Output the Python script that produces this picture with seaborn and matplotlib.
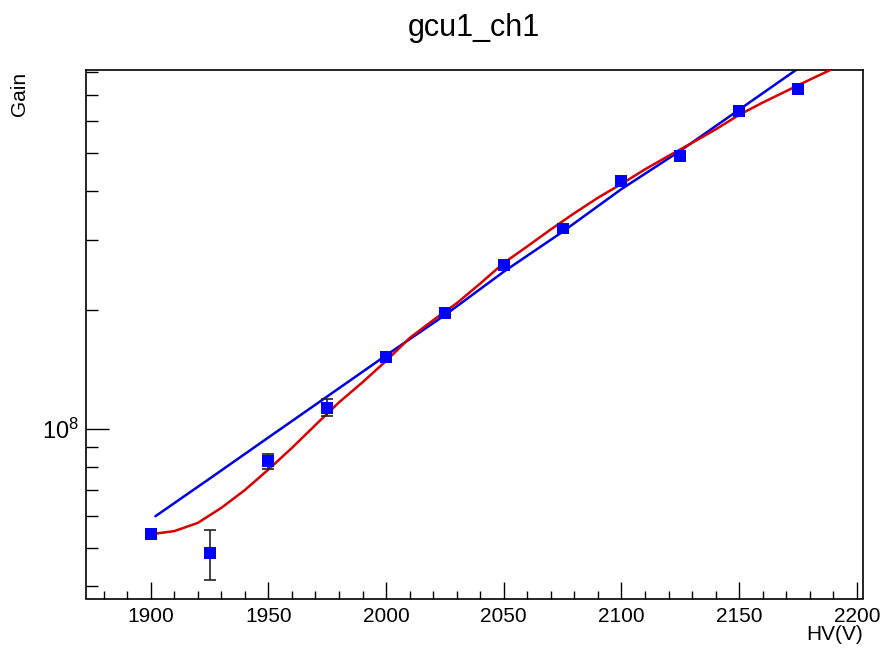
import numpy as np
import pandas as pd
import matplotlib
matplotlib.use("Agg")
import matplotlib.pyplot as plt
import matplotlib.ticker as mticker
import seaborn as sns

# ---- data ----
hv = [1900, 1925, 1950, 1975, 2000, 2025, 2050, 2075, 2100, 2125, 2150, 2175]
gain = [5.41e7, 4.85e7, 8.28e7, 1.132e8, 1.52e8, 1.97e8, 2.60e8, 3.215e8,
        4.24e8, 4.91e8, 6.37e8, 7.24e8]
gain_err = [0.05e7, 0.71e7, 0.36e7, 0.055e8, 0.02e8, 0.025e8, 0.03e8, 0.04e8,
            0.05e8, 0.06e8, 0.07e8, 0.08e8]

# red fit curve
red_hv = [1901, 1910, 1920, 1930, 1940, 1950, 1960, 1970, 1980, 1990, 2000,
          2010, 2020, 2030, 2040, 2050, 2060, 2070, 2080, 2090, 2100, 2110,
          2120, 2130, 2140, 2150, 2160, 2170, 2180, 2190, 2200]
red_gain = [5.42e7, 5.51e7, 5.78e7, 6.31e7, 7.00e7, 7.89e7, 8.95e7, 1.023e8,
            1.167e8, 1.312e8, 1.486e8, 1.698e8, 1.884e8, 2.080e8, 2.333e8,
            2.630e8, 2.897e8, 3.199e8, 3.516e8, 3.846e8, 4.169e8, 4.539e8,
            4.909e8, 5.297e8, 5.728e8, 6.237e8, 6.699e8, 7.161e8, 7.656e8,
            8.166e8, 8.71e8]

# blue fit curve
blue_hv = [1902, 1925, 1950, 1975, 2000, 2025, 2050, 2075, 2100, 2125, 2150,
           2175, 2180]
blue_gain = [6.01e7, 7.48e7, 9.51e7, 1.208e8, 1.535e8, 1.941e8, 2.500e8,
             3.155e8, 4.046e8, 5.058e8, 6.427e8, 8.166e8, 8.57e8]

title = "gcu1_ch1"
xlabel = "HV(V)"
ylabel = "Gain"
xticks = [1900, 1950, 2000, 2050, 2100, 2150, 2200]

# ---- styling ----
sns.set_style("ticks")
plt.rcParams["font.family"] = ["Liberation Sans", "DejaVu Sans"]
plt.rcParams["mathtext.fontset"] = "custom"
plt.rcParams["mathtext.rm"] = "Liberation Sans"
plt.rcParams["mathtext.it"] = "Liberation Sans:italic"
plt.rcParams["text.color"] = "black"
plt.rcParams["xtick.color"] = "black"
plt.rcParams["ytick.color"] = "black"
plt.rcParams["axes.labelcolor"] = "black"

W, H = 884, 653
fig = plt.figure(figsize=(W / 100, H / 100), dpi=100)
ax = fig.add_axes([86 / W, 1 - 598.5 / H, (862.7 - 86) / W, (598.5 - 70) / H])

ax.set_yscale("log")

df_pts = pd.DataFrame({"hv": hv, "gain": gain})
df_red = pd.DataFrame({"hv": red_hv, "gain": red_gain})
df_blue = pd.DataFrame({"hv": blue_hv, "gain": blue_gain})

sns.lineplot(data=df_blue, x="hv", y="gain", ax=ax, color="#0000e6",
             linewidth=1.8, sort=False, estimator=None, zorder=2)
sns.lineplot(data=df_red, x="hv", y="gain", ax=ax, color="#d80000",
             linewidth=1.8, sort=False, estimator=None, zorder=3)
ax.errorbar(hv, gain, yerr=gain_err, fmt="none", ecolor="#222222",
            elinewidth=1.2, capsize=4.5, capthick=1.2, zorder=4)
sns.scatterplot(data=df_pts, x="hv", y="gain", ax=ax, marker="s", s=74,
                color="#0000ff", edgecolor="none", linewidth=0, zorder=5)

ax.set_xlim(1872.5, 2202.5)
ax.set_ylim(3.72e7, 8.1e8)

ax.xaxis.set_major_locator(mticker.FixedLocator(xticks))
ax.xaxis.set_minor_locator(mticker.MultipleLocator(10))
ax.yaxis.set_major_locator(mticker.LogLocator(base=10, numticks=10))
ax.yaxis.set_minor_locator(mticker.LogLocator(base=10, subs=np.arange(2, 10), numticks=20))
ax.yaxis.set_minor_formatter(mticker.NullFormatter())

ax.tick_params(axis="x", which="major", direction="in", length=12, width=1,
               labelsize=15, pad=6, top=False)
ax.tick_params(axis="x", which="minor", direction="in", length=6, width=1, top=False)
ax.tick_params(axis="y", which="major", direction="in", length=16.5, width=1,
               labelsize=17, pad=5, right=False)
ax.tick_params(axis="y", which="minor", direction="in", length=8.5, width=1, right=False)

for s in ax.spines.values():
    s.set_linewidth(1.2)
    s.set_color("black")

ax.set_xlabel("")
ax.set_ylabel("")

fig.text(474 / W, 1 - 28 / H, title, ha="center", va="center", fontsize=22)
fig.text(863 / W, 1 - 635 / H, xlabel, ha="right", va="center", fontsize=15)
fig.text(20 / W, 1 - 72 / H, ylabel, ha="center", va="top", rotation=90, fontsize=15)

fig.savefig("out.png", dpi=100)
